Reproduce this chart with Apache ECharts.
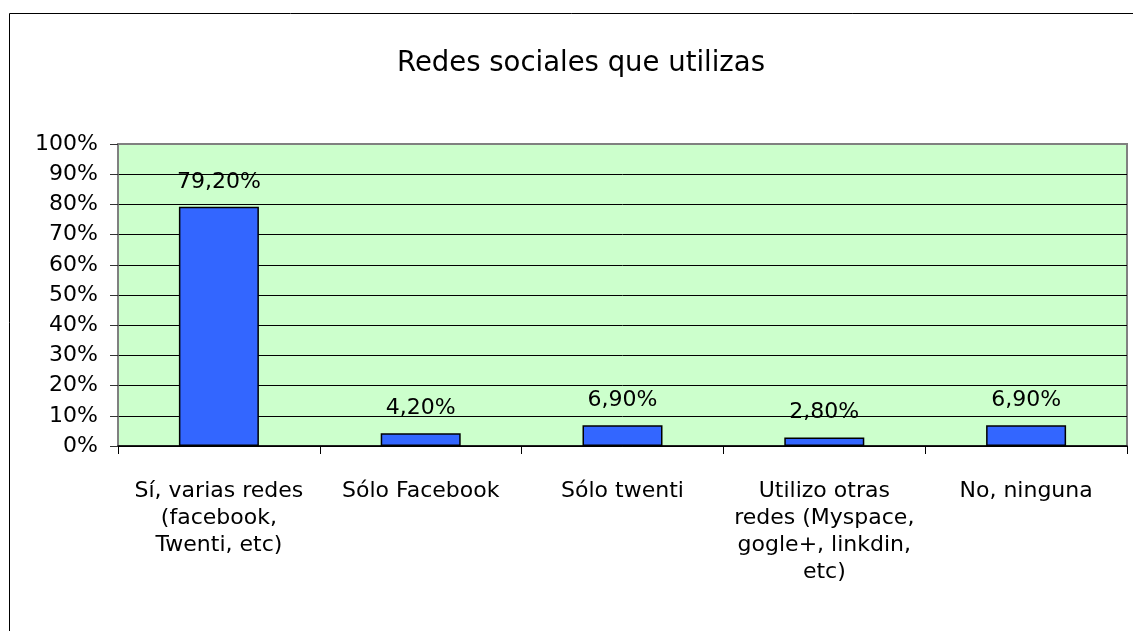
<!DOCTYPE html>
<html>
<head>
<meta charset="utf-8">
<script src="https://cdn.jsdelivr.net/npm/echarts@6/dist/echarts.min.js"></script>
<style>
  html, body { margin: 0; padding: 0; background: #fff; }
  #chart { width: 1133px; height: 631px; }
</style>
</head>
<body>
<div id="chart"></div>
<script>
const titleText = "Redes sociales que utilizas";
const categories = [
  "Sí, varias redes\n(facebook,\nTwenti, etc)",
  "Sólo Facebook",
  "Sólo twenti",
  "Utilizo otras\nredes (Myspace,\ngogle+, linkdin,\netc)",
  "No, ninguna"
];
const values = [79.2, 4.2, 6.9, 2.8, 6.9];
const yTicks = [0, 10, 20, 30, 40, 50, 60, 70, 80, 90, 100];

const font = "DejaVu Sans";
const chart = echarts.init(document.getElementById("chart"));

chart.setOption({
  animation: false,
  backgroundColor: "#ffffff",
  textStyle: { fontFamily: font, color: "#000" },
  title: {
    text: titleText,
    left: 576,
    top: 45,
    textAlign: "center",
    textStyle: { fontFamily: font, fontSize: 27.5, fontWeight: "normal", color: "#000" }
  },
  graphic: [
    {
      type: "rect",
      shape: { x: 9.5, y: 13.5, width: 1300, height: 800 },
      style: { fill: "none", stroke: "#000", lineWidth: 1 },
      silent: true,
      z: -1
    }
  ],
  grid: {
    left: 118, right: 6, top: 144, bottom: 185,
    show: true,
    backgroundColor: "#CCFFCC",
    borderColor: "#808080",
    borderWidth: 2
  },
  xAxis: {
    type: "category",
    data: categories,
    axisLine: { lineStyle: { color: "#000", width: 1.5 } },
    axisTick: { show: true, length: 8, lineStyle: { color: "#000" } },
    axisLabel: {
      interval: 0,
      margin: 32,
      fontFamily: font,
      fontSize: 22,
      lineHeight: 27,
      color: "#000"
    }
  },
  yAxis: {
    type: "value",
    min: yTicks[0],
    max: yTicks[yTicks.length - 1],
    interval: 10,
    axisLine: { show: true, lineStyle: { color: "#808080", width: 1.5 } },
    axisTick: { show: true, length: 8, lineStyle: { color: "#333" } },
    axisLabel: {
      margin: 20,
      fontFamily: font,
      fontSize: 22,
      color: "#000",
      formatter: "{value}%"
    },
    splitLine: {
      show: true,
      lineStyle: {
        color: ["#000", "#000", "#000", "#000", "#000", "#000", "#000", "#000", "#000", "#000", "#808080"],
        width: 1
      }
    }
  },
  series: [
    {
      type: "bar",
      data: values,
      barWidth: 80,
      itemStyle: { color: "#3366FF", borderColor: "#000", borderWidth: 1.5 },
      label: {
        show: true,
        position: "top",
        distance: 14,
        fontFamily: font,
        fontSize: 22,
        color: "#000",
        formatter: (p) => p.value.toFixed(2).replace(".", ",") + "%"
      }
    }
  ]
});
</script>
</body>
</html>
